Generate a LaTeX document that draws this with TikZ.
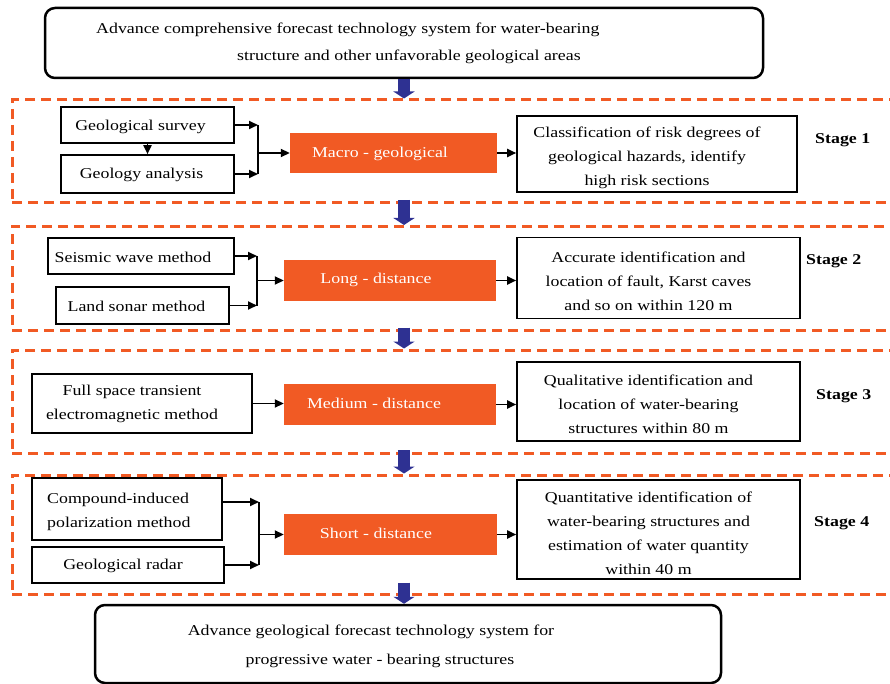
\documentclass[tikz,border=0pt]{standalone}
\usepackage{fontspec}
\setmainfont{Liberation Serif}[FakeStretch=1.19]
\usetikzlibrary{arrows.meta,calc}
\definecolor{org}{HTML}{F15A24}
\definecolor{navy}{HTML}{2E3192}
\begin{document}
\begin{tikzpicture}[x=1pt,y=-1pt,
  ft/.style={font=\fontsize{15}{24}\selectfont},
  box/.style={draw, line width=1.6pt, inner sep=0pt},
  obox/.style={fill=org, draw=none, inner sep=0pt},
  otxt/.style={ft, text=white, inner sep=0pt},
  txt/.style={ft, inner sep=0pt, align=center},
  rbox/.style={draw, line width=2.5pt, rounded corners=10pt, inner sep=0pt},
  stagebox/.style={draw=org, line width=3pt, dash pattern=on 10pt off 6pt, inner sep=0pt},
  stg/.style={font=\fontsize{15}{18}\selectfont\bfseries, inner sep=0pt},
  arr/.style={line width=1.8pt, -{Triangle[length=9pt,width=8pt]}},
  ln/.style={line width=1.8pt},
  bigarr/.style={navy, line width=12pt, -{Triangle[length=7pt,width=21pt]}}
]
\useasboundingbox (0,0) rectangle (890,684);
\clip (0,0) rectangle (890,684);

% top box
\node[rbox, minimum width=718pt, minimum height=70pt] (top) at (404,43) {};
\node[txt, anchor=base west] (topa) at (96,34) {Advance comprehensive forecast technology system for water-bearing};
\node[txt, anchor=base west] (topb) at (237,61) {structure and other unfavorable geological areas};

% stage frames
\node[stagebox, minimum width=888pt, minimum height=103pt] (s1) at (456,151.5) {};
\node[stagebox, minimum width=888pt, minimum height=104pt] (s2) at (456,278.5) {};
\node[stagebox, minimum width=888pt, minimum height=103pt] (s3) at (456,401.5) {};
\node[stagebox, minimum width=888pt, minimum height=119pt] (s4) at (456,534.5) {};

% bottom box
\node[rbox, minimum width=626pt, minimum height=78pt] (bot) at (408,644) {};
\node[txt, anchor=base] (bota) at (371,635) {Advance geological forecast technology system for};
\node[txt, anchor=base] (botb) at (380,664) {progressive water - bearing structures};

% blue arrows
\draw[bigarr] (top.south) -- (top.south |- s1.north);
\draw[bigarr] ([yshift=4.5pt]top.south |- s1.south) -- (top.south |- s2.north);
\draw[bigarr] ([yshift=4.5pt]top.south |- s2.south) -- (top.south |- s3.north);
\draw[bigarr] ([yshift=4.5pt]top.south |- s3.south) -- (top.south |- s4.north);
\draw[bigarr] ([yshift=13pt]top.south |- s4.south) -- (top.south |- bot.north);

% ---------- Stage 1
\node[box, minimum width=173pt, minimum height=36pt] (survey) at (147.5,125) {};
\node[txt] (surveyt) at ([xshift=-7pt,yshift=-2pt]survey.center) {Geological survey};
\node[box, minimum width=173pt, minimum height=38pt] (analysis) at (147.5,174) {};
\node[txt] (analysist) at ([xshift=-6pt,yshift=-1pt]analysis.center) {Geology analysis};
\node[obox, minimum width=207pt, minimum height=40pt] (macro) at (393.5,153) {};
\node[otxt] (macrot) at (380,154) {Macro - geological};
\node[box, minimum width=280pt, minimum height=76pt] (res1) at (657,154) {};
\node[txt] (res1t) at ([xshift=-10pt,yshift=-4pt]res1.center) {Classification of risk degrees of\\geological hazards, identify\\high risk sections};
\node[stg, anchor=west] (st1) at (815,140) {Stage 1};
\coordinate (j1) at (258,153);
\draw[arr] (survey) -- (analysis);
\draw[arr] (survey.east) -- (survey.east -| j1);
\draw[arr] (analysis.east) -- (analysis.east -| j1);
\draw[ln] (survey.east -| j1) -- (analysis.east -| j1);
\draw[arr] (j1 |- macro.west) -- (macro.west);
\draw[arr] (macro.east) -- (macro.east -| res1.west);

% ---------- Stage 2
\node[box, minimum width=186pt, minimum height=36pt] (seismic) at (141,256) {};
\node[txt] (seismict) at ([xshift=-8pt,yshift=-1pt]seismic.center) {Seismic wave method};
\node[box, minimum width=173pt, minimum height=37pt] (sonar) at (142.5,305.5) {};
\node[txt] (sonart) at ([xshift=-6pt,yshift=-1pt]sonar.center) {Land sonar method};
\node[obox, minimum width=212pt, minimum height=41pt] (long) at (390,280.5) {};
\node[otxt] (longt) at (376,280) {Long - distance};
\node[box, minimum width=283pt, minimum height=81pt] (res2) at (658.5,278) {};
\node[txt] (res2t) at ([xshift=-10pt,yshift=-3pt]res2.center) {Accurate identification and\\location of fault, Karst caves\\and so on within 120 m};
\node[stg, anchor=west] (st2) at (806,261) {Stage 2};
\coordinate (j2) at (257,281);
\draw[arr] (seismic.east) -- (seismic.east -| j2);
\draw[arr] (sonar.east) -- (sonar.east -| j2);
\draw[ln] (seismic.east -| j2) -- (sonar.east -| j2);
\draw[arr] (j2 |- long.west) -- (long.west);
\draw[arr] (long.east) -- (long.east -| res2.west);

% ---------- Stage 3
\node[box, minimum width=220pt, minimum height=59pt] (full) at (142,403.5) {};
\node[txt] (fullt) at ([xshift=-10pt]full.center) {Full space transient\\electromagnetic method};
\node[obox, minimum width=212pt, minimum height=41pt] (medium) at (390,404.5) {};
\node[otxt] (mediumt) at (374,403) {Medium - distance};
\node[box, minimum width=283pt, minimum height=79pt] (res3) at (658.5,401.5) {};
\node[txt] (res3t) at ([xshift=-10pt,yshift=-3pt]res3.center) {Qualitative identification and\\location of water-bearing\\structures within 80 m};
\node[stg, anchor=west] (st3) at (816,396) {Stage 3};
\draw[arr] (full.east) -- (full.east -| medium.west);
\draw[arr] (medium.east) -- (medium.east -| res3.west);

% ---------- Stage 4
\node[box, minimum width=190pt, minimum height=62pt] (compound) at (127,509) {};
\node[txt, align=left, anchor=west] (compoundt) at (47,512) {Compound-induced\\polarization method};
\node[box, minimum width=192pt, minimum height=36pt] (radar) at (128,565) {};
\node[txt] (radart) at ([xshift=-5pt,yshift=-1pt]radar.center) {Geological radar};
\node[obox, minimum width=213pt, minimum height=41pt] (short) at (390.5,534.5) {};
\node[otxt] (shortt) at (376,533) {Short - distance};
\node[box, minimum width=283pt, minimum height=99pt] (res4) at (658.5,529.5) {};
\node[txt] (res4t) at ([xshift=-10pt,yshift=-4pt]res4.center) {Quantitative identification of\\water-bearing structures and\\estimation of water quantity\\within 40 m};
\node[stg, anchor=west] (st4) at (814,523) {Stage 4};
\coordinate (j4) at (259,532);
\draw[arr] ([yshift=7pt]compound.east) -- ([yshift=7pt]compound.east -| j4);
\draw[arr] (radar.east) -- (radar.east -| j4);
\draw[ln] ([yshift=7pt]compound.east -| j4) -- (radar.east -| j4);
\draw[arr] (j4 |- short.west) -- (short.west);
\draw[arr] (short.east) -- (short.east -| res4.west);
\end{tikzpicture}
\end{document}
